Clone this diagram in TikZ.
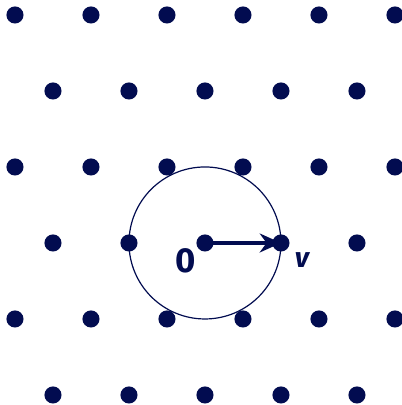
\documentclass[tikz,border=0pt]{standalone}
\usepackage{fontspec}
\setmainfont{Fira Sans}
\usetikzlibrary{arrows.meta}
\definecolor{latnavy}{RGB}{2,12,80}
\tikzset{
  dot/.style={circle,fill=latnavy,inner sep=0pt,minimum size=0.225cm},
  vec/.style={latnavy,line width=1.2pt,-{Stealth[length=2.8mm,width=2.5mm]}},
  lbl/.style={text=latnavy,inner sep=0pt,font=\bfseries}
}
\begin{document}
\begin{tikzpicture}
\useasboundingbox (-2.697,-2.132) rectangle (2.592,3.197);

\foreach \y in {-2,0,2}
\foreach \x in {-2,...,2}
\node[dot] (d\x/\y) at (\x,\y) {} ;

\foreach \y in {-1,1,3}{
\foreach \x in {-2,...,3}{
\node[dot] (e\x/\y) at (\x-0.5,\y) {} ;
}}

% unit circle round the origin
\draw[latnavy,line width=0.45pt] (d0/0.center) circle (1cm);

\draw[vec] (d0/0.center) -- (d1/0.center);

\node[lbl,font=\bfseries\fontsize{13}{15}\selectfont] (zero) at (-0.25,-0.24) {0};
\node[lbl,font=\bfseries\itshape\fontsize{10.5}{12}\selectfont] (vname) at (1.276,-0.23) {v};
\end{tikzpicture}
\end{document}
